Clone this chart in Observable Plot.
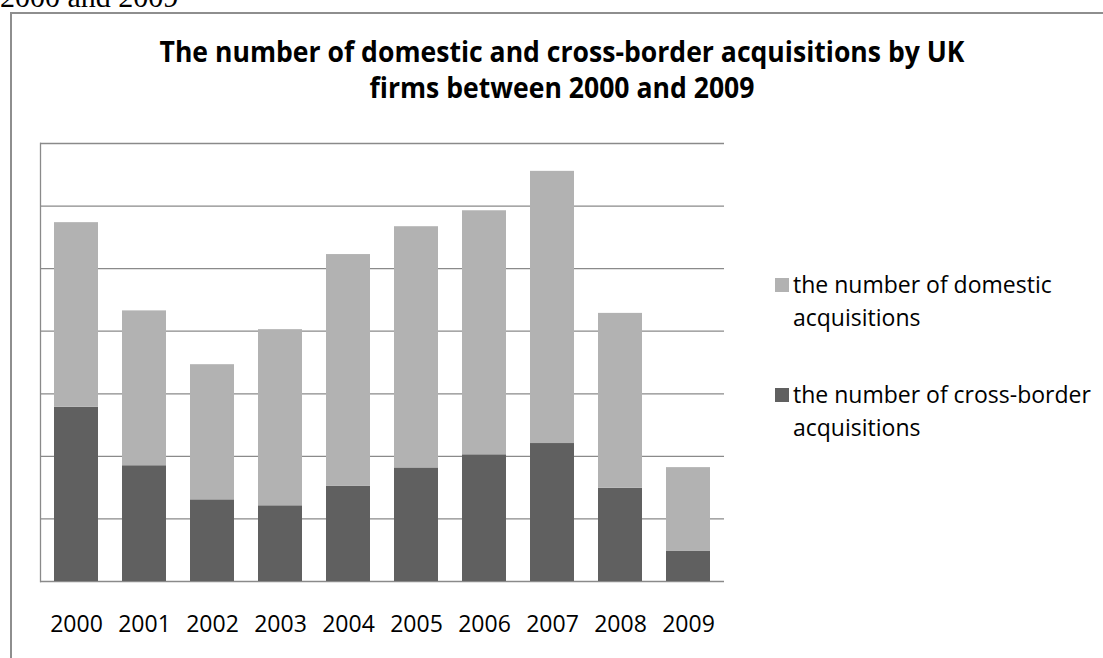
<!DOCTYPE html>
<html><head><meta charset="utf-8">
<script src="https://cdn.jsdelivr.net/npm/d3@7"></script>
<script src="https://cdn.jsdelivr.net/npm/@observablehq/plot@0.6"></script>
<style>
html,body{margin:0;padding:0;background:#fff;overflow:hidden;width:1103px;height:658px;}
body{position:relative;font-family:"Open Sans",sans-serif;color:#000;}
#doc{position:absolute;left:0;top:-18px;font-family:"Liberation Serif",serif;font-size:30px;line-height:30px;white-space:nowrap;}
#frame{position:absolute;left:10px;top:12px;width:1200px;height:700px;border:2px solid #8e8e8e;box-sizing:border-box;}
.title{position:absolute;left:562px;font-weight:700;font-size:29px;line-height:29px;white-space:nowrap;}
#chart{position:absolute;left:0;top:130px;}
.leg{position:absolute;left:775px;font-size:23px;line-height:33px;white-space:nowrap;}
.leg .sw{position:absolute;left:0;width:14px;height:14px;}
.leg .lab{position:absolute;left:18px;top:0;}
</style>
</head><body>
<div id="doc">2000 and 2009</div>
<div id="frame"></div>
<div class="title" id="t1" style="top:36px">The number of domestic and cross-border acquisitions by UK</div>
<div class="title" id="t2" style="top:72px">firms between 2000 and 2009</div>
<div id="chart"></div>
<div id="legend"></div>
<script>
const years = ["2000","2001","2002","2003","2004","2005","2006","2007","2008","2009"];
const crossBorder = [557, 370, 261, 242, 304, 363, 405, 441, 298, 96];
const domestic = [590, 495, 432, 563, 741, 771, 780, 870, 559, 268];
const seriesKeys = ["cross", "domestic"];
const seriesLabels = ["the number of cross-border acquisitions", "the number of domestic acquisitions"];
const seriesColors = ["#606060", "#b2b2b2"];
const yTicks = [0, 200, 400, 600, 800, 1000, 1200, 1400];

const rows = [];
years.forEach((yr, i) => {
  rows.push({year: yr, series: "cross", value: crossBorder[i]});
  rows.push({year: yr, series: "domestic", value: domestic[i]});
});

const plot = Plot.plot({
  width: 740, height: 528,
  marginLeft: 40, marginRight: 16, marginTop: 13, marginBottom: 77,
  style: {fontFamily: "Open Sans", fontSize: "23px", color: "#000", background: "transparent", overflow: "visible"},
  x: {domain: years, paddingInner: 0.357, paddingOuter: 0.1785, label: null, tickSize: 0, tickPadding: 34},
  y: {domain: [0, 1400], axis: null},
  color: {domain: seriesKeys, range: seriesColors},
  marks: [
    Plot.ruleY(yTicks, {stroke: "#8a8a8a", strokeWidth: 1.3}),
    Plot.barY(rows, {x: "year", y: "value", fill: "series"}),
    Plot.frame({anchor: "left", stroke: "#8a8a8a", strokeWidth: 1.3})
  ]
});
document.getElementById("chart").appendChild(plot);

// title: scale horizontally to match the condensed original
const t1 = document.getElementById("t1"), t2 = document.getElementById("t2");
const s = 805 / t1.getBoundingClientRect().width;
[t1, t2].forEach(t => { t.style.transform = `translateX(-50%) scaleX(${s})`; });

// legend (domestic first, as in the original)
const legend = document.getElementById("legend");
const legendOrder = [1, 0];
const legendTops = [268, 378];
legendOrder.forEach((k, j) => {
  const words = seriesLabels[k].split(" ");
  const last = words.pop();
  const item = document.createElement("div");
  item.className = "leg";
  item.style.top = legendTops[j] + "px";
  item.innerHTML = `<div class="sw" style="top:10px;background:${seriesColors[k]}"></div>` +
    `<div class="lab">${words.join(" ")}<br>${last}</div>`;
  legend.appendChild(item);
});
</script>
</body></html>
